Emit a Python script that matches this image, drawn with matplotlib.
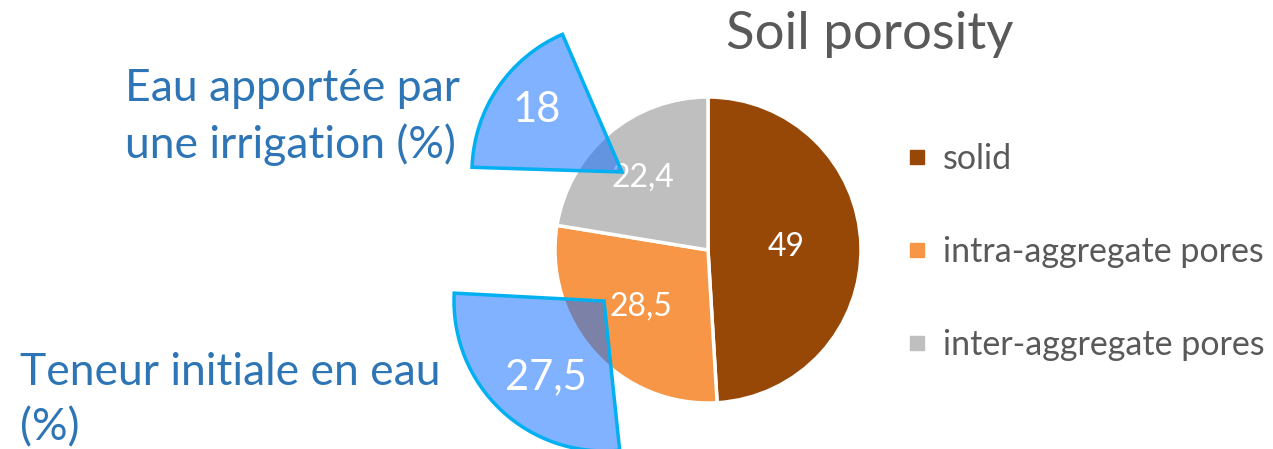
import matplotlib
matplotlib.use('Agg')
import matplotlib.pyplot as plt
from matplotlib.patches import Wedge
from matplotlib.lines import Line2D

plt.rcParams['font.family'] = ['Lato', 'DejaVu Sans']

# data
categories = ['solid', 'intra-aggregate pores', 'inter-aggregate pores']
porosity = [49, 28.5, 22.4]
value_labels = ['49', '28,5', '22,4']
colors = ['#974806', '#F79646', '#BFBFBF']

water_values = [18, 27.5]
water_labels = ['18', '27,5']
water_notes = ['Eau apportée par\nune irrigation (%)', 'Teneur initiale en eau\n(%)']

W, H = 1273, 449
fig = plt.figure(figsize=(W / 100, H / 100), dpi=100)
ax = fig.add_axes([0, 0, 1, 1])

# main pie (pixel-like coordinates, y up)
cx, cy, r = 708, H - 250, 153
wedges, _ = ax.pie(porosity, center=(cx, cy), radius=r, startangle=90,
                   counterclock=False, colors=colors,
                   wedgeprops=dict(edgecolor='white', linewidth=2.5))
ax.set_xlim(0, W)
ax.set_ylim(0, H)
ax.set_aspect('equal')
ax.axis('off')

label_pos = [(786, 247), (641, 307), (643, 178)]
for (x, y), t in zip(label_pos, value_labels):
    ax.text(x, H - y, t, color='white', fontsize=23, ha='center', va='center')

ax.text(870, H - 34, 'Soil porosity', color='#595959', fontsize=38,
        ha='center', va='center')

# overlaid water wedges
apexes = [(622, H - 172), (604, H - 301)]
starts = [113.4, 177]
text_pos = [(537, 110), (546, 377)]
for val, (ax_x, ax_y), t1, (tx, ty), lab in zip(water_values, apexes, starts,
                                                text_pos, water_labels):
    span = val / 100 * 360
    w = Wedge((ax_x, ax_y), 150, t1, t1 + span,
              facecolor=(15 / 255, 111 / 255, 1.0, 0.53),
              edgecolor='#00B0F0', linewidth=2.5, zorder=3)
    ax.add_patch(w)
    ax.text(tx, H - ty, lab, color='white', fontsize=30, ha='center',
            va='center', zorder=4)

ax.text(125, H - 117, water_notes[0], color='#2E75B6', fontsize=32,
        ha='left', va='center', linespacing=1.42)
ax.text(20, H - 400, water_notes[1], color='#2E75B6', fontsize=32,
        ha='left', va='center', linespacing=1.42)

# legend
handles = [Line2D([], [], marker='s', linestyle='none', markersize=9.5,
                  markerfacecolor=c, markeredgecolor=c) for c in colors]
ax.legend(handles, categories, loc='upper left',
          bbox_to_anchor=(878 / W, 1 - 112 / H), frameon=False,
          fontsize=24.5, labelcolor='#595959', handlelength=0.5,
          handletextpad=0.5, labelspacing=1.8)

fig.savefig('out.png', dpi=100)
